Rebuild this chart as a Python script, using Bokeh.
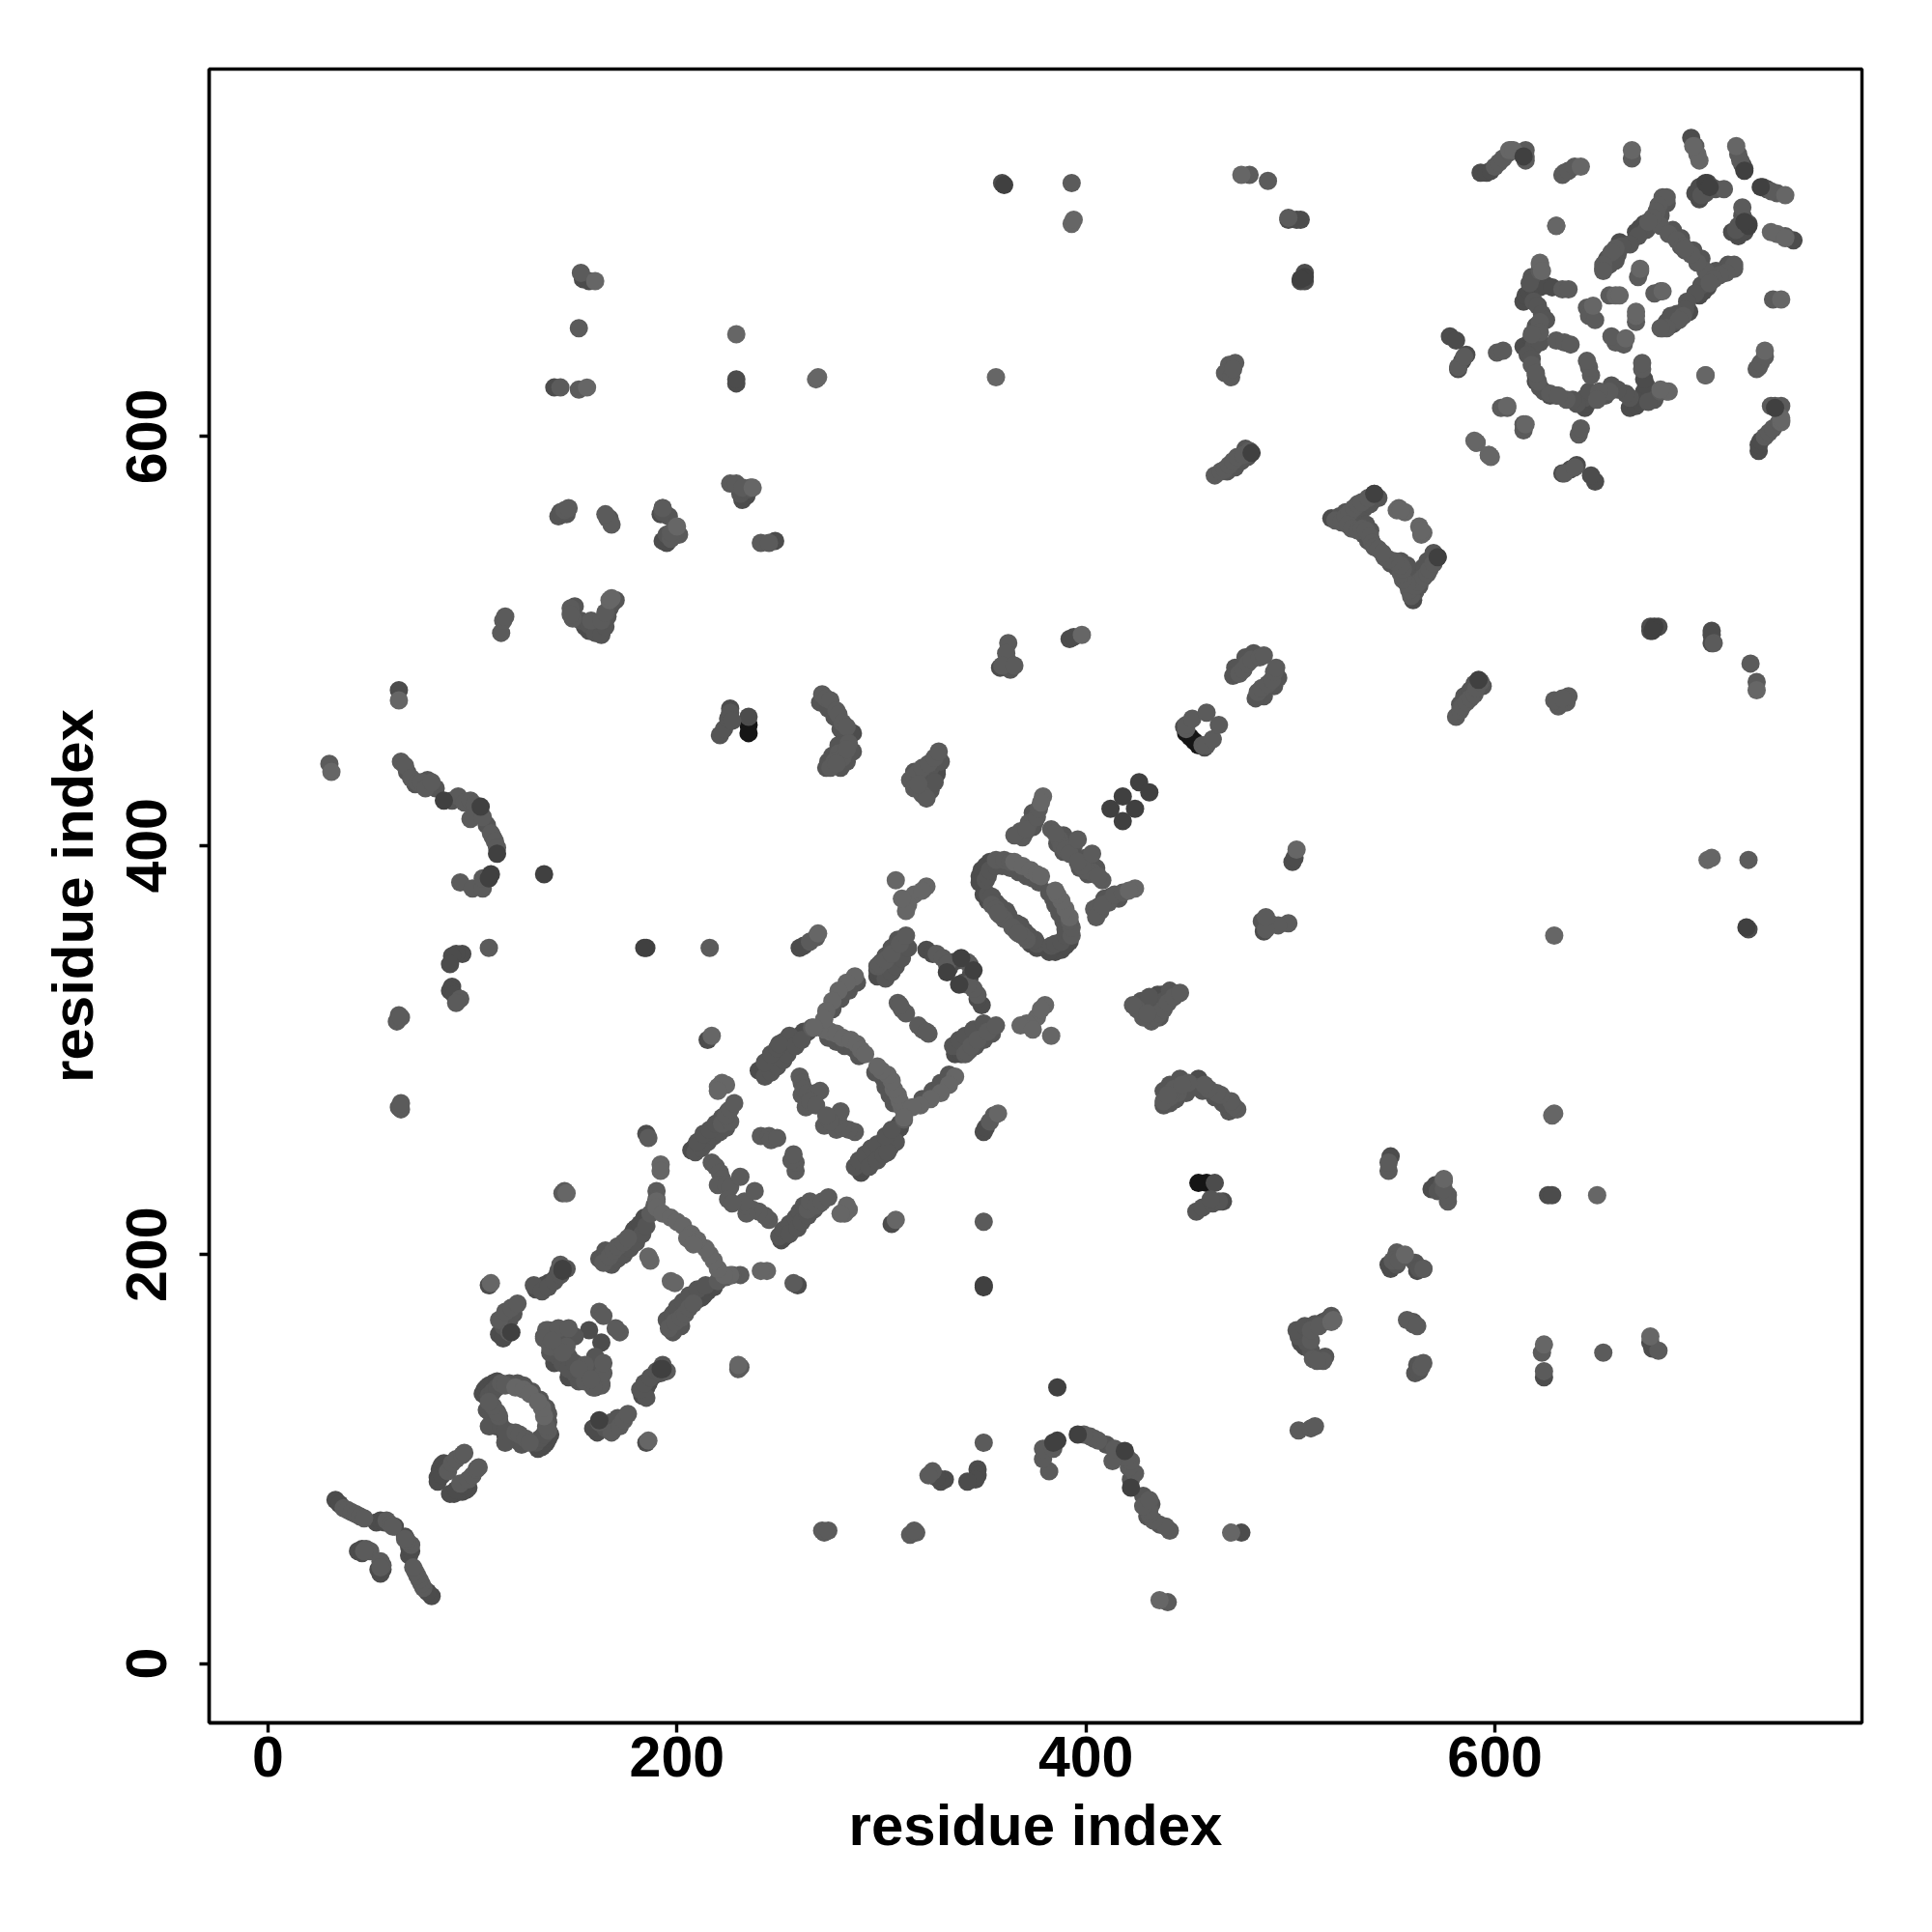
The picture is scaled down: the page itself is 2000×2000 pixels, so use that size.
from bokeh.embed import file_html
from bokeh.models import ColumnDataSource, FixedTicker, Range1d
from bokeh.plotting import figure
from bokeh.resources import INLINE

# Contacts as (residue i, residue j), i < j; the map is symmetric.
contacts_black = [(235, 459), (235, 455), (449, 455), (451, 453)]

contacts_under = [
    (33, 80), (35, 78), (46, 56), (44, 55), (53, 69), (55, 70), (57, 69), (62, 67), (46, 54),
    (84, 93), (83, 91), (83, 89), (84, 95), (85, 97), (86, 98), (85, 92), (87, 96),
    (105, 132), (106, 134), (107, 135), (108, 136), (110, 137), (112, 138),
    (110, 118), (112, 116), (113, 119), (111, 135), (110, 120),
    (108, 185), (131, 183), (133, 184), (135, 185), (137, 186), (139, 187), (141, 189),
    (113, 161), (115, 159), (135, 160), (137, 163), (140, 149), (140, 147), (157, 163),
    (178, 210), (179, 212), (180, 213), (182, 215), (184, 218), (185, 259),
    (207, 251), (209, 253), (211, 255), (213, 257), (215, 258), (217, 260), (219, 262),
    (215, 305), (240, 290), (243, 291), (245, 293), (246, 295), (248, 298), (250, 300),
    (256, 304), (258, 305), (260, 307), (262, 309), (264, 309),
    (298, 336), (298, 339), (300, 338), (302, 340), (304, 342), (306, 346), (308, 349),
    (260, 350), (262, 351), (322, 349), (325, 347), (333, 340), (335, 343), (338, 344),
    (349, 388), (348, 385), (348, 382), (350, 376), (352, 373), (353, 392), (351, 390),
    (95, 347), (92, 347), (90, 346), (89, 342), (90, 331), (89, 329), (91, 327),
    (64, 476), (282, 448), (286, 455), (327, 437), (327, 435), (358, 487), (360, 488),
    (392, 501), (394, 502), (359, 724), (499, 706), (503, 706), (505, 706),
    (505, 676), (507, 680), (507, 676), (226, 467), (235, 463),
    (154, 677), (157, 676), (140, 624), (229, 626), (229, 628), (193, 565), (192, 562),
    (193, 549), (195, 548), (155, 507), (157, 505), (159, 506), (161, 508), (167, 516),
    (232, 569), (234, 571), (248, 549), (584, 637), (582, 633), (586, 640), (578, 649), (581, 647),
    (593, 729), (596, 729), (598, 730), (696, 746), (722, 731), (721, 733),
    (702, 723), (698, 719), (700, 722), (704, 724), (700, 716), (669, 700), (671, 702), (673, 704),
    (661, 695), (653, 682), (654, 685), (655, 687),
    (614, 666), (615, 669), (617, 671), (619, 672), (622, 673), (625, 674), (628, 673),
    (614, 644), (616, 645), (618, 648), (620, 630), (620, 627),
    (448, 458), (520, 560),
]

contacts_wide = [
    (352, 376), (354, 375), (356, 372), (358, 370), (361, 368), (362, 366), (351, 383), (352, 385),
    (353, 388), (356, 390), (359, 390), (363, 389), (367, 387), (371, 385), (374, 384), (377, 382),
    (209, 250), (212, 252), (215, 255), (218, 258), (221, 260), (224, 262), (210, 255), (213, 259),
    (216, 261), (219, 264), (222, 267), (225, 270),
    (243, 287), (246, 289), (249, 292), (252, 295), (254, 298), (243, 294), (246, 298), (249, 301),
    (252, 304), (255, 307), (250, 303), (258, 302), (261, 305),
    (302, 335), (305, 338), (307, 341), (310, 345), (313, 350), (300, 343), (302, 346), (305, 350),
    (308, 354), (276, 320), (280, 325), (284, 329), (288, 333),
    (274, 306), (278, 304), (282, 302), (286, 301), (289, 297),
    (168, 195), (171, 198), (174, 200), (177, 203), (180, 206), (183, 210), (185, 214), (162, 198),
    (165, 202), (130, 185), (134, 182), (137, 184), (140, 187), (143, 190), (146, 193), (142, 192),
    (108, 131), (110, 133), (112, 135), (118, 137), (122, 137), (125, 136), (129, 133), (107, 124),
    (109, 122), (110, 121), (108, 116), (114, 116),
    (140, 160), (145, 160), (143, 156), (138, 152), (142, 150), (144, 147), (147, 150), (150, 160),
    (115, 165), (118, 168), (120, 171), (221, 454), (223, 457), (225, 462), (226, 465), (227, 461),
    (684, 714), (681, 708), (678, 704), (674, 701), (670, 698), (666, 694), (662, 693), (660, 689),
    (656, 684), (656, 688), (659, 686), (687, 701), (691, 697), (693, 691),
    (618, 678), (617, 675), (619, 666), (621, 664), (623, 660), (625, 657), (620, 654), (619, 644),
    (622, 646), (616, 640), (618, 638),
    (622, 624), (706, 722), (708, 721), (703, 719), (701, 718),
    (469, 583), (473, 585), (476, 588), (479, 590), (478, 594),
    (524, 561), (527, 563), (530, 562), (533, 564), (536, 565), (539, 567), (543, 570), (530, 558),
    (533, 557), (536, 552), (538, 549), (537, 557), (539, 554),
    (68, 436), (72, 430), (78, 432), (82, 428), (90, 422), (102, 417), (107, 410), (110, 404),
    (270, 470), (274, 467), (277, 463), (280, 457), (282, 453), (279, 449), (276, 444), (274, 441),
    (280, 438), (283, 441), (286, 446), (273, 438),
    (316, 436), (319, 433), (322, 436), (324, 438), (320, 428), (324, 427), (326, 431), (329, 441),
    (150, 517), (153, 510), (157, 508), (160, 504), (163, 503), (165, 507), (168, 518), (170, 520),
    (166, 512), (231, 572), (234, 574), (142, 561), (146, 562), (143, 563), (167, 560),
    (196, 561), (193, 563), (200, 553), (198, 551), (195, 552), (362, 490), (363, 486),
    (374, 416), (375, 412), (370, 406), (374, 409), (389, 405), (392, 402), (394, 400), (386, 401),
    (389, 397), (478, 492), (482, 494), (473, 487), (472, 483),
]

contacts_mid = [
    (37, 76), (39, 75), (41, 74), (43, 73), (45, 72), (47, 71), (48, 56), (50, 55), (47, 55),
    (58, 70), (60, 68), (61, 67), (64, 272), (65, 271), (65, 274),
    (88, 94), (90, 98), (92, 100), (95, 102), (96, 103),
    (113, 121), (112, 123), (110, 126), (108, 128), (114, 137), (116, 136),
    (113, 168), (116, 172), (119, 174), (122, 176), (118, 162),
    (136, 163), (142, 164), (147, 164), (135, 159), (138, 155), (146, 155), (144, 152), (139, 158),
    (143, 195), (144, 192), (145, 231), (144, 230),
    (162, 172), (164, 170), (164, 196), (167, 199), (169, 202), (171, 204), (174, 206), (176, 208),
    (187, 220), (189, 224), (190, 231), (190, 227), (186, 257),
    (222, 264), (226, 265), (224, 268), (226, 271), (228, 274),
    (241, 258), (245, 258), (246, 256), (249, 257),
    (217, 245), (219, 243), (221, 240), (222, 237), (220, 234), (224, 234), (226, 233),
    (231, 238), (225, 227), (266, 311), (268, 355), (265, 353), (216, 350),
    (298, 341), (299, 342), (302, 344), (305, 347), (309, 352), (312, 356),
    (260, 287), (261, 284), (261, 278), (262, 281), (264, 279), (268, 279), (270, 280), (263, 272),
    (265, 275), (268, 273), (308, 323), (310, 320), (312, 318), (309, 322),
    (327, 347), (330, 345), (332, 342), (343, 342),
    (354, 371), (356, 369), (358, 366), (360, 364), (357, 367),
    (356, 393), (360, 393), (363, 392),
    (65, 441), (67, 439), (70, 433), (73, 431), (75, 431), (77, 428), (80, 431),
    (93, 424), (96, 421), (99, 422), (101, 420), (99, 413), (105, 414), (109, 406), (111, 402), (112, 399),
    (94, 382), (100, 379), (105, 379), (105, 384), (30, 440),
    (108, 350), (64, 317), (63, 314), (65, 316), (94, 325), (92, 323),
    (271, 474), (273, 472), (275, 471), (278, 466), (279, 464), (281, 460), (283, 458),
    (284, 450), (279, 445), (277, 441), (275, 438), (281, 443), (283, 447), (278, 440),
    (314, 432), (316, 434), (318, 436), (320, 438), (323, 440), (326, 443), (328, 446),
    (316, 428), (320, 425), (322, 423), (318, 430),
    (362, 499), (361, 494), (359, 488), (365, 488), (387, 403), (388, 400), (390, 398), (392, 396),
    (369, 404), (372, 411), (368, 407), (365, 405), (371, 408), (376, 414), (377, 418),
    (383, 408), (385, 406), (396, 403),
    (449, 457), (449, 459), (452, 462), (459, 465),
    (475, 484), (477, 486), (479, 489), (481, 491), (485, 492), (487, 493),
    (463, 581), (466, 583), (468, 584), (470, 586), (472, 588), (474, 590), (477, 591), (480, 593),
    (470, 635), (473, 636), (468, 631), (471, 629), (472, 633),
    (522, 559), (525, 558), (527, 561), (529, 563), (531, 565), (533, 567), (535, 568), (538, 570),
    (541, 572), (528, 557), (530, 555), (533, 554), (535, 555), (537, 554), (539, 551), (540, 548),
    (541, 546), (543, 545),
    (145, 564), (147, 565), (148, 516), (149, 511), (148, 513), (158, 510), (163, 510), (165, 514),
    (114, 504), (115, 510), (116, 512), (199, 555), (201, 552), (197, 550), (193, 565), (197, 553),
    (166, 560), (168, 557), (165, 562), (153, 680), (152, 653), (143, 624), (152, 623),
    (241, 548), (245, 548), (236, 575), (226, 577), (229, 577), (232, 575),
    (393, 724), (489, 725), (480, 728), (499, 707),
    (600, 732), (602, 734), (604, 736), (615, 740), (615, 737), (615, 735),
    (633, 728), (634, 729), (636, 730), (639, 732), (667, 736), (698, 742),
    (719, 738), (720, 735), (712, 721), (681, 703), (685, 699), (689, 696), (692, 693),
    (682, 717), (684, 717), (680, 713), (679, 710), (677, 707), (675, 705),
    (659, 692), (657, 690), (653, 684), (653, 681), (622, 684), (622, 681), (633, 672), (636, 672),
    (622, 656), (622, 651), (618, 650), (630, 647), (634, 646), (637, 645),
    (618, 635), (627, 621), (631, 620), (601, 641), (604, 642), (603, 614), (606, 614),
    (645, 663), (646, 659), (649, 657), (656, 669), (671, 681), (670, 678), (630, 703),
    (591, 597), (582, 634), (585, 639), (607, 739), (608, 740),
]

contacts_light = [
    (192, 244), (192, 241), (187, 197), (186, 199), (146, 230), (109, 186),
    (121, 135), (125, 134), (128, 132), (190, 226), (190, 223),
    (193, 220), (197, 218), (200, 216), (203, 214), (207, 210), (205, 208),
    (272, 310), (275, 309), (278, 308), (281, 306), (285, 305), (288, 303), (290, 300), (292, 298),
    (287, 336), (283, 333), (279, 329), (276, 324), (273, 319), (272, 315), (267, 311),
    (222, 284), (220, 282), (224, 283), (220, 280), (217, 307), (269, 357),
    (307, 383), (322, 380), (316, 376), (313, 371), (312, 368), (310, 374), (320, 378),
    (365, 392), (369, 390), (373, 388), (376, 386), (378, 385), (379, 424), (378, 421),
    (64, 471), (31, 436), (229, 650), (268, 628), (269, 629), (356, 629),
    (156, 624), (160, 676), (167, 520), (237, 575), (200, 556), (168, 521), (393, 704), (394, 706),
    (476, 728), (398, 503), (553, 565), (552, 564), (563, 556), (564, 554),
    (607, 740), (667, 740), (699, 738), (700, 735), (697, 742), (718, 742),
    (642, 732), (591, 597), (630, 703), (659, 669), (661, 669), (671, 682),
    (622, 685), (623, 681), (648, 664), (598, 590), (606, 615), (609, 740),
]

contacts_top_dark = [
    (86, 422), (104, 419), (112, 396), (109, 386), (108, 384), (135, 386), (185, 350),
    (412, 418), (418, 424), (426, 431), (144, 192), (119, 162), (144, 193),
    (338, 332), (345, 339), (360, 723), (507, 678), (505, 677), (184, 350),
    (703, 724), (705, 722), (614, 737), (722, 730), (481, 592), (541, 572),
]

x_ticks = [0, 200, 400, 600]
x_title = "residue index"
y_title = "residue index"

GROUPS = [
    (contacts_black, "#151515"),
    (contacts_under, "#4c4c4c"),
    (contacts_wide, "#555555"),
    (contacts_mid, "#5b5b5b"),
    (contacts_light, "#666666"),
    (contacts_top_dark, "#404040"),
]

xs, ys, colors = [], [], []
for pairs, col in GROUPS:
    for i, j in pairs:
        xs += [i, j]
        ys += [j, i]
        colors += [col, col]

p = figure(
    frame_width=1711, frame_height=1712,
    min_border_left=216, min_border_top=71, min_border_right=50, min_border_bottom=200,
    x_range=Range1d(-28.8, 779.5), y_range=Range1d(-29.0, 779.7),
    output_backend="svg", toolbar_location=None,
    background_fill_color="white", border_fill_color="white",
)
p.grid.visible = False
p.outline_line_color = "black"
p.outline_line_width = 3.4

p.scatter(x="x", y="y", color="c", size=19, line_color=None,
          source=ColumnDataSource(dict(x=xs, y=ys, c=colors)))

for ax in (p.xaxis[0], p.yaxis[0]):
    ax.ticker = FixedTicker(ticks=x_ticks)
    ax.axis_line_color = "black"
    ax.axis_line_width = 3.4
    ax.major_tick_line_color = "black"
    ax.major_tick_line_width = 3.4
    ax.major_tick_in = 0
    ax.major_tick_out = 10
    ax.minor_tick_line_color = None
    ax.major_label_text_font = "Liberation Sans"
    ax.major_label_text_font_style = "bold"
    ax.major_label_text_font_size = "59px"
    ax.major_label_text_color = "black"
    ax.axis_label_text_font = "Liberation Sans"
    ax.axis_label_text_font_style = "bold"
    ax.axis_label_text_font_size = "60px"
    ax.axis_label_text_color = "black"

p.xaxis[0].axis_label = x_title
p.yaxis[0].axis_label = y_title
p.xaxis[0].major_label_standoff = 4
p.xaxis[0].axis_label_standoff = 14
p.yaxis[0].major_label_orientation = "vertical"
p.yaxis[0].major_label_standoff = 34
p.yaxis[0].axis_label_standoff = 20

open("out.html", "w").write(file_html(p, INLINE))
